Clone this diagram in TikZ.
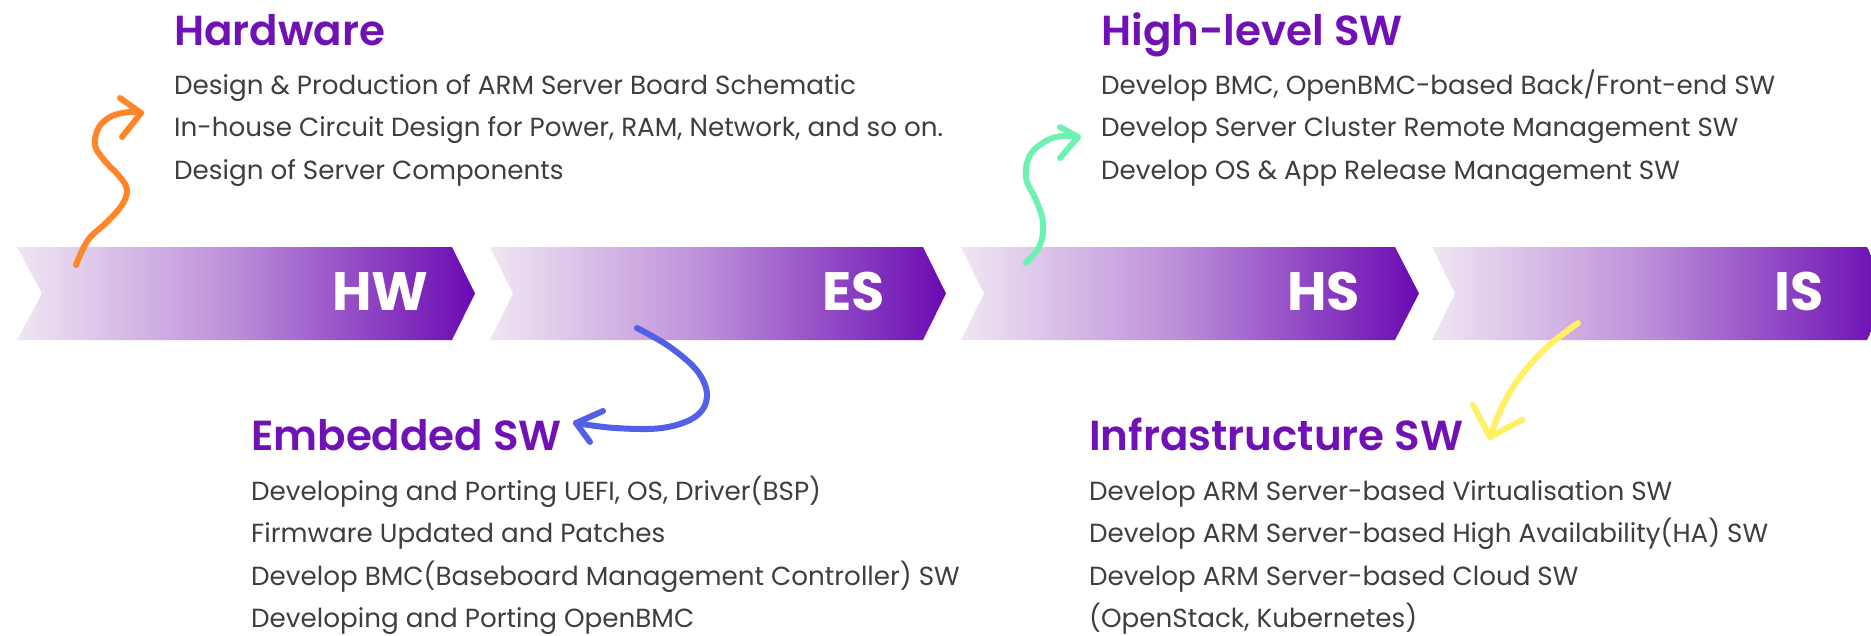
\documentclass[tikz,border=0pt]{standalone}
\usepackage{fontspec}
\setmainfont{Poppins}
\newfontfamily\titlef{Poppins SemiBold}
\newfontfamily\labf{Poppins Bold}
\definecolor{ttl}{RGB}{112,17,181}
\definecolor{txt}{RGB}{62,62,62}
\definecolor{cA}{RGB}{240,230,243}
\definecolor{cB}{RGB}{190,145,218}
\definecolor{cC}{RGB}{106,10,178}
\definecolor{orangeA}{RGB}{255,133,40}
\definecolor{greenA}{RGB}{110,242,178}
\definecolor{blueA}{RGB}{82,96,232}
\definecolor{yellowA}{RGB}{255,240,100}
\pgfdeclarehorizontalshading{chev}{100bp}{color(0bp)=(cA); color(25bp)=(cA); color(48bp)=(cB); color(75bp)=(cC); color(100bp)=(cC)}
\tikzset{
  title/.style={anchor=base west,inner sep=0pt,text=ttl,font=\titlef\fontsize{42}{50}\selectfont},
  body/.style={anchor=base west,inner sep=0pt,text=txt,font=\fontsize{26.2}{30}\selectfont},
  lab/.style={anchor=base east,inner sep=0pt,text=white,font=\labf\fontsize{54}{60}\selectfont},
  squig/.style={line width=6pt,line cap=round,line join=round},
}
\begin{document}
\begin{tikzpicture}[x=1pt,y=-1pt]
\useasboundingbox (0,0) rectangle (1871,635);
\begin{scope}
\clip (0,0) rectangle (1871,635);
\foreach \l/\n/\c/\t/\nm in {17/42/452/475/hw,490/513/923/946/es,961/984/1395/1419/hs,1432/1455/1867/1890/is}{
  \shade[shading=chev] (\l,247) -- (\c,247) -- (\t,293.5) -- (\c,340) -- (\l,340) -- (\n,293.5) -- cycle;
}
\end{scope}
\node[lab] (hwl) at (429,310) {HW};
\node[lab] (esl) at (885,310) {ES};
\node[lab] (hsl) at (1360,310) {HS};
\node[lab] (isl) at (1824,310) {IS};

\node[title] (hwt) at (174,45) {Hardware};
\node[body] (hw1) at (174,94) {Design \& Production of ARM Server Board Schematic};
\node[body] (hw2) at (174,136.5) {In-house Circuit Design for Power, RAM, Network, and so on.};
\node[body] (hw3) at (174,179) {Design of Server Components};

\node[title] (hst) at (1101,45) {High-level SW};
\node[body] (hs1) at (1101,94) {Develop BMC, OpenBMC-based Back/Front-end SW};
\node[body] (hs2) at (1101,136.5) {Develop Server Cluster Remote Management SW};
\node[body] (hs3) at (1101,179) {Develop OS \& App Release Management SW};

\node[title] (est) at (251,450) {Embedded SW};
\node[body] (es1) at (251,500) {Developing and Porting UEFI, OS, Driver(BSP)};
\node[body] (es2) at (251,542.5) {Firmware Updated and Patches};
\node[body] (es3) at (251,585) {Develop BMC(Baseboard Management Controller) SW};
\node[body] (es4) at (251,627.5) {Developing and Porting OpenBMC};

\node[title] (ist) at (1089,450) {Infrastructure SW};
\node[body] (is1) at (1089,500) {Develop ARM Server-based Virtualisation SW};
\node[body] (is2) at (1089,542.5) {Develop ARM Server-based High Availability(HA) SW};
\node[body] (is3) at (1089,585) {Develop ARM Server-based Cloud SW};
\node[body] (is4) at (1089,627.5) {(OpenStack, Kubernetes)};

% orange squiggle
\coordinate (oS) at (76,265);
\coordinate (oT) at (141,113);
\draw[squig,orangeA] plot[smooth,tension=0.6] coordinates {(76,265) (88,240) (107,222) (122,205) (127,190) (120,177) (104,160) (95,145) (99,127) (112,116) (130,112) (141,113)};
\draw[squig,orangeA] (120,98) -- (oT) -- (122,137);

% green squiggle
\coordinate (gS) at (1026,263);
\coordinate (gT) at (1078,137);
\draw[squig,greenA] plot[smooth,tension=0.6] coordinates {(1026,263) (1040,245) (1043,222) (1036,200) (1026,178) (1030,155) (1046,141) (1062,136) (1078,137)};
\draw[squig,greenA] (1060,127) -- (gT) -- (1060,158);

% blue hook
\coordinate (bS) at (637,328);
\coordinate (bT) at (576,423);
\draw[squig,blueA] plot[smooth,tension=0.6] coordinates {(637,328) (670,347) (698,372) (707,397) (695,417) (662,428) (615,428) (576,423)};
\draw[squig,blueA] (603,411) -- (bT) -- (590,442);

% yellow arc
\coordinate (yS) at (1578,323);
\coordinate (yT) at (1490,437);
\draw[squig,yellowA] plot[smooth,tension=0.6] coordinates {(1578,323) (1547,347) (1520,377) (1502,407) (1490,437)};
\draw[squig,yellowA] (1473,405) -- (yT) -- (1522,420);
\end{tikzpicture}
\end{document}
